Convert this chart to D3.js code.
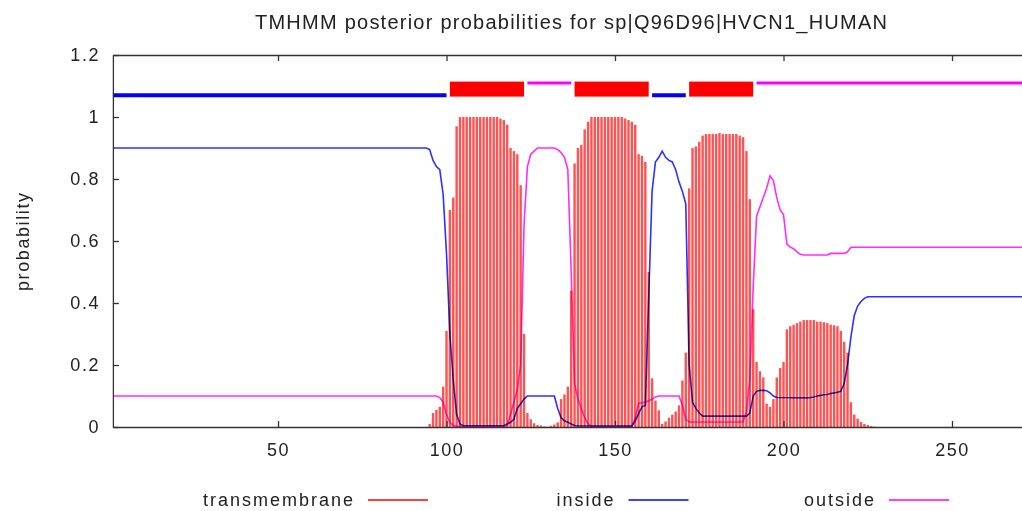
<!DOCTYPE html>
<html>
<head>
<meta charset="utf-8">
<script src="https://cdn.jsdelivr.net/npm/d3@7"></script>
<style>
  body { margin: 0; background: #fff; }
  svg { display: block; font-family: 'Liberation Sans', Arial, sans-serif; }
  .axis path, .axis line { stroke: #333; stroke-width: 1.3; }
  .axis text { fill: #222; font-size: 18px; letter-spacing: 1.5px; font-family: 'Liberation Sans', Arial, sans-serif; }
  .curve { fill: none; stroke-width: 1.6; mix-blend-mode: multiply; }
</style>
</head>
<body>
<div id="chart-area"></div>
<script>
const title = 'TMHMM posterior probabilities for sp|Q96D96|HVCN1_HUMAN';
const yLabel = 'probability';
const seqLength = 273;
const xTicks = [50, 100, 150, 200, 250];
const yTicks = [0, 0.2, 0.4, 0.6, 0.8, 1, 1.2];

// predicted topology: [from, to]
const insideSegments = [[1, 100], [161, 171]];
const tmSegments = [[101, 123], [138, 160], [172, 191]];
const outsideSegments = [[124, 137], [192, 273]];

// transmembrane posterior, one value per residue starting at tmFirst (zero elsewhere)
const tmFirst = 95;
const tmProb = [
  0.01, 0.045, 0.055, 0.065, 0.13, 0.31, 0.70, 0.74, 0.97, 1.0,
  1.0, 1.0, 1.0, 1.0, 1.0, 1.0, 1.0, 1.0, 1.0, 1.0,
  1.0, 0.995, 0.99, 0.975, 0.9, 0.89, 0.88, 0.78, 0.30, 0.045,
  0.025, 0.012, 0.006, 0.005, 0.002, 0.001, 0.004, 0.008, 0.015, 0.09,
  0.105, 0.13, 0.44, 0.85, 0.9, 0.91, 0.96, 0.985, 1.0, 1.0,
  1.0, 1.0, 1.0, 1.0, 1.0, 1.0, 1.0, 1.0, 0.995, 0.99,
  0.985, 0.975, 0.88, 0.875, 0.855, 0.5, 0.157, 0.085, 0.054, 0.01,
  0.018, 0.03, 0.04, 0.05, 0.07, 0.15, 0.24, 0.77, 0.9, 0.905,
  0.92, 0.94, 0.945, 0.945, 0.945, 0.945, 0.948, 0.945, 0.945, 0.945,
  0.945, 0.945, 0.94, 0.935, 0.89, 0.735, 0.38, 0.21, 0.18, 0.16,
  0.075, 0.065, 0.09, 0.16, 0.19, 0.21, 0.315, 0.325, 0.33, 0.335,
  0.34, 0.345, 0.345, 0.345, 0.345, 0.34, 0.34, 0.338, 0.335, 0.33,
  0.328, 0.325, 0.31, 0.275, 0.24, 0.08, 0.04, 0.027, 0.016, 0.01,
  0.006, 0.003, 0.001
];

// inside / outside posteriors as [residue, probability] vertices
const insideProb = [
  [1, 0.9], [94, 0.9], [95, 0.895], [96, 0.86], [97, 0.84], [98, 0.83], [99, 0.75], [100, 0.56],
  [101, 0.3], [102, 0.15], [103, 0.04], [104, 0.01], [105, 0.004], [117, 0.004], [118, 0.01],
  [119, 0.015], [120, 0.025], [121, 0.06], [122, 0.075], [123, 0.09], [124, 0.1], [132, 0.1],
  [133, 0.06], [134, 0.03], [135, 0.02], [136, 0.015], [137, 0.01], [138, 0.005], [139, 0.003],
  [155, 0.003], [156, 0.02], [157, 0.043], [158, 0.065], [159, 0.07], [160, 0.42], [161, 0.76],
  [162, 0.855], [163, 0.87], [164, 0.89], [165, 0.87], [166, 0.86], [167, 0.855], [168, 0.83],
  [169, 0.79], [170, 0.76], [171, 0.72], [172, 0.2], [173, 0.08], [174, 0.06], [175, 0.045],
  [176, 0.035], [189, 0.035], [190, 0.045], [191, 0.1], [192, 0.115], [193, 0.118], [194, 0.118],
  [195, 0.117], [196, 0.11], [197, 0.1], [198, 0.095], [207, 0.094], [208, 0.095], [209, 0.097],
  [210, 0.1], [211, 0.102], [212, 0.104], [213, 0.105], [214, 0.108], [215, 0.11], [216, 0.112],
  [217, 0.115], [218, 0.14], [219, 0.2], [220, 0.29], [221, 0.36], [222, 0.39], [223, 0.405],
  [224, 0.415], [225, 0.42], [273, 0.42]
];
const outsideProb = [
  [1, 0.1], [97, 0.1], [98, 0.095], [99, 0.08], [100, 0.04], [101, 0.015], [102, 0.005],
  [103, 0.002], [117, 0.002], [118, 0.005], [119, 0.04], [120, 0.08], [121, 0.12], [122, 0.2],
  [123, 0.65], [124, 0.84], [125, 0.88], [126, 0.89], [127, 0.9], [132, 0.9], [133, 0.895],
  [134, 0.885], [135, 0.87], [136, 0.83], [137, 0.5], [138, 0.14], [139, 0.09], [140, 0.06],
  [141, 0.03], [142, 0.01], [143, 0.002], [155, 0.002], [156, 0.03], [157, 0.076], [158, 0.078],
  [159, 0.08], [160, 0.085], [161, 0.09], [162, 0.097], [163, 0.1], [169, 0.1], [170, 0.07],
  [171, 0.025], [172, 0.016], [188, 0.016], [189, 0.05], [190, 0.15], [191, 0.45], [192, 0.68],
  [193, 0.71], [194, 0.74], [195, 0.77], [196, 0.81], [197, 0.795], [198, 0.74], [199, 0.7],
  [200, 0.685], [201, 0.59], [202, 0.58], [203, 0.575], [204, 0.565], [205, 0.557], [206, 0.555],
  [213, 0.555], [214, 0.56], [218, 0.56], [219, 0.565], [220, 0.58], [273, 0.58]
];

const legendItems = ['transmembrane', 'inside', 'outside'];
const colors = { transmembrane: '#ff0000', inside: '#0000ff', outside: '#ff00ff' };

const chartSize = { width: 1022, height: 511 };
const plot = { left: 112.9, right: 1029.5, top: 55, bottom: 427 };

const x = d3.scaleLinear().domain([1, seqLength]).range([plot.left, plot.right]);
const y = d3.scaleLinear().domain([0, 1.2]).range([plot.bottom, plot.top]);

const svg = d3.select('#chart-area').append('svg')
  .attr('width', chartSize.width)
  .attr('height', chartSize.height);

// title
svg.append('text')
  .attr('x', 571)
  .attr('y', 29)
  .attr('text-anchor', 'middle')
  .attr('font-size', 20)
  .attr('fill', '#222')
  .attr('textLength', 632)
  .attr('lengthAdjust', 'spacing')
  .text(title);

// y label
svg.append('text')
  .attr('transform', 'translate(29,242) rotate(-90)')
  .attr('text-anchor', 'middle')
  .attr('font-size', 18)
  .attr('fill', '#222')
  .attr('textLength', 98)
  .attr('lengthAdjust', 'spacing')
  .text(yLabel);

// transmembrane impulses
const tmData = tmProb.map((p, i) => ({ pos: tmFirst + i, p }));
svg.append('g').attr('class', 'impulses')
  .selectAll('rect')
  .data(tmData)
  .enter()
  .append('rect')
  .attr('x', d => x(d.pos) - 1.2)
  .attr('width', 2.4)
  .attr('y', d => y(d.p))
  .attr('height', d => y(0) - y(d.p))
  .attr('fill', '#ff5252');

// inside and outside curves
const line = d3.line().x(d => x(d[0])).y(d => y(d[1]));
svg.append('path').attr('class', 'curve').attr('d', line(insideProb)).attr('stroke', '#2f2fff');
svg.append('path').attr('class', 'curve').attr('d', line(outsideProb)).attr('stroke', '#ff2cff');

// topology bars on top
const topo = svg.append('g').attr('class', 'topology');
topo.selectAll('line.inside')
  .data(insideSegments)
  .enter()
  .append('line')
  .attr('x1', d => x(d[0])).attr('x2', d => x(d[1]))
  .attr('y1', y(1.07)).attr('y2', y(1.07))
  .attr('stroke', colors.inside).attr('stroke-width', 4);
topo.selectAll('rect.tm')
  .data(tmSegments)
  .enter()
  .append('rect')
  .attr('x', d => x(d[0])).attr('width', d => x(d[1]) - x(d[0]))
  .attr('y', y(1.09) - 7.5).attr('height', 15)
  .attr('fill', colors.transmembrane);
topo.selectAll('line.outside')
  .data(outsideSegments)
  .enter()
  .append('line')
  .attr('x1', d => x(d[0])).attr('x2', d => x(d[1]))
  .attr('y1', y(1.11)).attr('y2', y(1.11))
  .attr('stroke', colors.outside).attr('stroke-width', 3);

// axes
svg.append('g').attr('class', 'axis')
  .attr('transform', `translate(0,${plot.bottom})`)
  .call(d3.axisBottom(x).tickValues(xTicks).tickSize(-6).tickSizeOuter(0).tickPadding(16));
svg.append('g').attr('class', 'axis')
  .attr('transform', `translate(0,${plot.top})`)
  .call(d3.axisTop(x).tickValues(xTicks).tickSize(-6).tickSizeOuter(0).tickFormat(''));
svg.append('g').attr('class', 'axis')
  .attr('transform', `translate(${x(1)},0)`)
  .call(d3.axisLeft(y).tickValues(yTicks).tickSize(-6).tickSizeOuter(0).tickPadding(13).tickFormat(d3.format('~g')));
svg.selectAll('.axis .domain').attr('fill', 'none');

// legend
const legend = svg.append('g').attr('class', 'legend');
legendItems.forEach((name, i) => {
  const lx = 368 + i * 260.5;
  legend.append('text')
    .attr('x', lx - 13)
    .attr('y', 506)
    .attr('text-anchor', 'end')
    .attr('font-size', 18)
    .attr('letter-spacing', '2px')
    .attr('fill', '#222')
    .text(name);
  legend.append('line')
    .attr('x1', lx).attr('x2', lx + 60)
    .attr('y1', 500).attr('y2', 500)
    .attr('stroke', colors[name]).attr('stroke-width', 1.5);
});
</script>
</body>
</html>
